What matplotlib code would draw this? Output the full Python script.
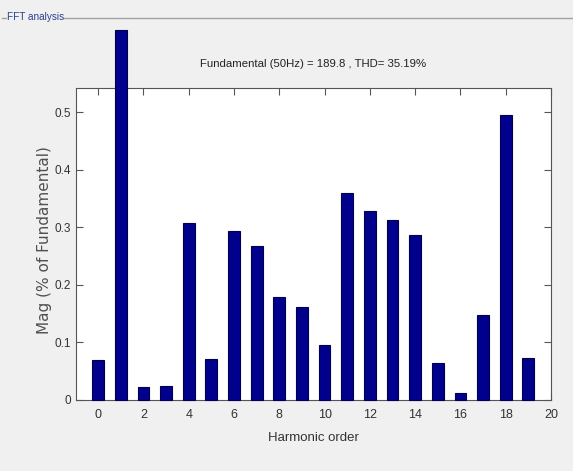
import matplotlib
matplotlib.use("Agg")
import matplotlib.pyplot as plt
from matplotlib.lines import Line2D

# Data
harmonic_order = list(range(20))
magnitude = [0.068, 0.644, 0.021, 0.024, 0.307, 0.071, 0.294, 0.268, 0.178, 0.161,
             0.095, 0.360, 0.328, 0.312, 0.286, 0.064, 0.012, 0.148, 0.495, 0.072]
x_ticks = list(range(0, 21, 2))
y_ticks = [0, 0.1, 0.2, 0.3, 0.4, 0.5]
y_tick_labels = ["0", "0.1", "0.2", "0.3", "0.4", "0.5"]
title_text = "Fundamental (50Hz) = 189.8 , THD= 35.19%"
panel_title = "FFT analysis"

narrow = ["Liberation Sans", "DejaVu Sans"]

fig = plt.figure(figsize=(5.73, 4.71), dpi=100)
fig.patch.set_facecolor("#f0f0f0")

ax = fig.add_axes([0.1318, 0.1518, 0.8298, 0.662])
ax.set_facecolor("white")
ax.bar(harmonic_order, magnitude, width=0.52, color="#00008c",
       edgecolor="#000050", linewidth=0.8, clip_on=False, zorder=3)
ax.set_xlim(-1, 20)
ax.set_ylim(0, 0.543)
ax.set_xticks(x_ticks)
ax.set_xticklabels([str(t) for t in x_ticks], family=narrow, fontsize=9, color="#333333")
ax.set_yticks(y_ticks)
ax.set_yticklabels(y_tick_labels, family=narrow, fontsize=8.5, color="#333333")
ax.tick_params(axis="x", direction="in", length=5, top=True, width=0.8,
               color="#555555", pad=7)
ax.tick_params(axis="y", direction="in", length=5, right=True, width=0.8,
               color="#555555", pad=3)
for s in ax.spines.values():
    s.set_color("#555555")
    s.set_linewidth(0.8)

ax.set_xlabel("Harmonic order", family=narrow, fontsize=9.5, color="#333333", labelpad=8)
ax.set_ylabel("Mag (% of Fundamental)", family=["DejaVu Sans"], fontsize=11,
              fontweight="normal", color="#505050")
ax.yaxis.set_label_coords(-0.05, 0.511)
ax.set_title(title_text, family=narrow, fontsize=8.2, color="#222222", pad=15)

# Panel frame
fig.add_artist(Line2D([64 / 573, 1.0], [1 - 18 / 471, 1 - 18 / 471],
                      color="#a0a0a0", linewidth=1.0))
fig.add_artist(Line2D([2 / 573, 6 / 573], [1 - 18 / 471, 1 - 18 / 471],
                      color="#a0a0a0", linewidth=1.0))
fig.text(7 / 573, 1 - 17 / 471, panel_title, family=narrow, fontsize=7.2,
         color="#2a3f8f", va="center", ha="left")

fig.savefig("out.png", dpi=100, facecolor=fig.get_facecolor())
